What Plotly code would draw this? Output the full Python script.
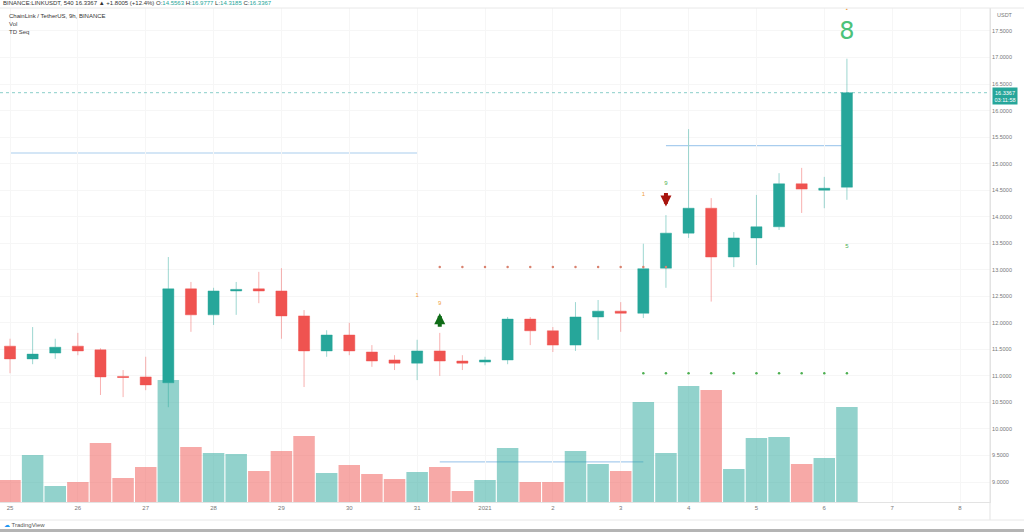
import plotly.graph_objects as go
import pandas as pd

# ---------------- data ----------------
start_time = "2020-12-25 00:00"
n_bars = 38
opens  = [11.56, 11.32, 11.43, 11.56, 11.49, 10.99, 10.98, 10.87, 12.64, 12.15,
          12.60, 12.64, 12.60, 12.13, 11.47, 11.77, 11.45, 11.30, 11.24, 11.47,
          11.28, 11.26, 11.30, 12.07, 11.85, 11.58, 12.11, 12.22, 12.18, 13.03,
          13.69, 14.16, 13.24, 13.60, 13.81, 14.62, 14.50, 14.5563]
highs  = [11.70, 11.92, 11.70, 11.81, 11.52, 11.11, 11.36, 13.24, 12.77, 12.66,
          12.77, 12.96, 13.03, 12.24, 11.86, 12.00, 11.58, 11.39, 11.68, 11.81,
          11.39, 11.36, 12.11, 12.11, 11.92, 12.39, 12.43, 12.39, 13.49, 14.03,
          15.65, 14.35, 13.71, 14.41, 14.82, 14.92, 14.75, 16.9777]
lows   = [11.05, 11.22, 11.32, 11.39, 10.64, 10.60, 10.73, 10.41, 11.83, 11.96,
          12.15, 12.37, 11.70, 10.79, 11.36, 11.39, 11.17, 11.11, 10.92, 11.00,
          11.11, 11.20, 11.22, 11.58, 11.45, 11.47, 11.68, 11.83, 12.09, 12.66,
          13.60, 12.40, 13.05, 13.09, 13.75, 14.07, 14.16, 14.3185]
closes = [11.32, 11.41, 11.54, 11.47, 10.98, 10.97, 10.83, 12.64, 12.15, 12.60,
          12.63, 12.60, 12.13, 11.47, 11.77, 11.47, 11.28, 11.24, 11.47, 11.28,
          11.24, 11.30, 12.07, 11.85, 11.58, 12.11, 12.22, 12.18, 13.02, 13.69,
          14.16, 13.24, 13.60, 13.81, 14.62, 14.52, 14.5362, 16.3367]
volume_k = [550, 1175, 400, 500, 1475, 600, 875, 3050, 1375, 1225,
            1200, 775, 1275, 1650, 725, 925, 700, 575, 750, 875,
            275, 550, 1350, 500, 500, 1275, 950, 775, 2500, 1225,
            2900, 2800, 825, 1600, 1625, 950, 1100, 2375]

day_ticks = pd.date_range("2020-12-25", "2021-01-08", freq="D")
day_labels = ["25", "26", "27", "28", "29", "30", "31", "2021", "2", "3", "4", "5", "6", "7", "8"]
price_ticks = [9.0 + 0.5 * k for k in range(18)]

# TD Sequential marks: (bar index, price, text)
td_orange_text = [(18, 12.52, "1"), (19, 12.37, "9"), (28, 14.41, "1"), (37, 17.90, "•")]
td_green_text = [(29, 14.62, "9"), (37, 13.43, "5")]
td_big_count = (37, 17.46, "8")
td_buy_arrow = (19, 12.18)    # arrow head price
td_sell_arrow = (29, 14.19)   # arrow head price
td_red_dots = (list(range(19, 29 + 1)), 13.05)
td_green_dots = (list(range(28, 37 + 1)), 11.05)
# TDST levels: (from bar, to bar, price)
tdst_levels = [(0, 18, 15.20), (29, 37, 15.34), (19, 28, 9.38)]

last_price = closes[-1]
prev_close = closes[-2]

# ---------------- figure ----------------
times = pd.date_range(start_time, periods=n_bars, freq="8h")
UP, DN = "#26a69a", "#ef5350"
UP_V, DN_V = "rgba(38,166,154,0.5)", "rgba(239,83,80,0.5)"
FONT = "Liberation Sans, Arial, sans-serif"

W, H, T = 990, 494, 8   # plot area width/height/top margin in px
def px_x(px): return px / W
def px_y(py): return (T + H - py) / H

vol_colors = [UP_V if c >= o else DN_V for o, c in zip(opens, closes)]

fig = go.Figure()
fig.add_trace(go.Bar(x=times, y=volume_k, marker=dict(color=vol_colors, line=dict(width=0)),
                     yaxis="y", hoverinfo="skip", showlegend=False))
fig.add_trace(go.Candlestick(
    x=times, open=opens, high=highs, low=lows, close=closes, yaxis="y2",
    increasing=dict(line=dict(color="rgba(38,166,154,0.45)", width=1), fillcolor=UP),
    decreasing=dict(line=dict(color="rgba(239,83,80,0.45)", width=1), fillcolor=DN),
    hoverinfo="skip", showlegend=False))

# TD dots
fig.add_trace(go.Scatter(x=[times[i] for i in td_red_dots[0]], y=[td_red_dots[1]] * len(td_red_dots[0]),
                         mode="markers", marker=dict(size=2.5, color="#d9826f"), yaxis="y2",
                         hoverinfo="skip", showlegend=False))
fig.add_trace(go.Scatter(x=[times[i] for i in td_green_dots[0]], y=[td_green_dots[1]] * len(td_green_dots[0]),
                         mode="markers", marker=dict(size=2.5, color="#4caf50"), yaxis="y2",
                         hoverinfo="skip", showlegend=False))
# TD texts
fig.add_trace(go.Scatter(x=[times[i] for i, _, _ in td_orange_text], y=[p for _, p, _ in td_orange_text],
                         text=[t for _, _, t in td_orange_text], mode="text",
                         textfont=dict(size=6, color="#f0a040", family=FONT), yaxis="y2",
                         hoverinfo="skip", showlegend=False))
fig.add_trace(go.Scatter(x=[times[i] for i, _, _ in td_green_text], y=[p for _, p, _ in td_green_text],
                         text=[t for _, _, t in td_green_text], mode="text",
                         textfont=dict(size=6, color="#4caf50", family=FONT), yaxis="y2",
                         hoverinfo="skip", showlegend=False))
fig.add_trace(go.Scatter(x=[times[td_big_count[0]]], y=[td_big_count[1]], text=[td_big_count[2]], mode="text",
                         textfont=dict(size=24, color="#4cc27a", family="DejaVu Sans"), yaxis="y2",
                         hoverinfo="skip", showlegend=False))

shapes = []
for a, b, lvl in tdst_levels:
    shapes.append(dict(type="line", xref="x", yref="y2", x0=times[a], x1=times[b], y0=lvl, y1=lvl,
                       line=dict(color="#a9cdee", width=1.2), layer="below"))
shapes.append(dict(type="line", xref="paper", yref="y2", x0=0, x1=1, y0=last_price, y1=last_price,
                   line=dict(color="rgba(38,166,154,0.55)", width=1, dash="dot")))
# axis frame extensions
shapes.append(dict(type="line", xref="paper", yref="paper", x0=1, x1=1, y0=px_y(520), y1=1,
                   line=dict(color="#e3e3e3", width=1)))
shapes.append(dict(type="line", xref="paper", yref="paper", x0=0, x1=px_x(1024), y0=px_y(520), y1=px_y(520),
                   line=dict(color="#e8e8e8", width=1)))
shapes.append(dict(type="line", xref="paper", yref="paper", x0=0, x1=px_x(1024), y0=1, y1=1,
                   line=dict(color="#e8e8e8", width=1)))
shapes.append(dict(type="rect", xref="paper", yref="paper", x0=0, x1=px_x(1024), y0=px_y(532), y1=px_y(529),
                   fillcolor="#b4b4b4", line=dict(width=0)))

tc = "#26a69a"
header = (f"<span style='color:#333'>BINANCE:LINKUSDT, 540 {last_price:.4f} ▲ "
          f"+{last_price - prev_close:.4f} (+{(last_price - prev_close) / prev_close * 100:.1f}%) O:</span>"
          f"<span style='color:{tc}'>{opens[-1]:.4f}</span><span style='color:#333'> H:</span>"
          f"<span style='color:{tc}'>{highs[-1]:.4f}</span><span style='color:#333'> L:</span>"
          f"<span style='color:{tc}'>{lows[-1]:.4f}</span><span style='color:#333'> C:</span>"
          f"<span style='color:{tc}'>{closes[-1]:.4f}</span>")

annotations = [
    dict(xref="paper", yref="paper", x=px_x(1), y=px_y(3.5), text=header, showarrow=False,
         xanchor="left", yanchor="middle", font=dict(size=6, family=FONT, color="#333")),
    dict(xref="paper", yref="paper", x=px_x(7), y=px_y(16), text="ChainLink / TetherUS, 9h, BINANCE",
         showarrow=False, xanchor="left", yanchor="middle", font=dict(size=6, family=FONT, color="#333")),
    dict(xref="paper", yref="paper", x=px_x(7), y=px_y(24), text="Vol", showarrow=False,
         xanchor="left", yanchor="middle", font=dict(size=6, family=FONT, color="#444")),
    dict(xref="paper", yref="paper", x=px_x(7), y=px_y(32), text="TD Seq", showarrow=False,
         xanchor="left", yanchor="middle", font=dict(size=6, family=FONT, color="#444")),
    dict(xref="paper", yref="paper", x=px_x(1005), y=px_y(15), text="USDT", showarrow=False,
         xanchor="center", yanchor="middle", font=dict(size=5.5, family=FONT, color="#777")),
    dict(xref="paper", yref="y2", x=1, y=last_price, text=f"{last_price:.4f}<br>03:11:58",
         showarrow=False, xanchor="left", yanchor="middle", xshift=2, yshift=-3,
         bgcolor="#26a69a", borderpad=1.5, font=dict(size=5.5, family=FONT, color="white")),
    dict(xref="paper", yref="paper", x=px_x(2), y=px_y(525), text="<span style='color:#2196f3'>☁</span> TradingView",
         showarrow=False, xanchor="left", yanchor="middle", font=dict(size=6, family=FONT, color="#555")),
    # TD buy / sell arrows (block arrows)
    dict(xref="x", yref="y2", x=times[td_buy_arrow[0]], y=td_buy_arrow[1], ax=0, ay=15,
         showarrow=True, arrowhead=2, arrowsize=0.55, arrowwidth=4, arrowcolor="#0e6b16", text=""),
    dict(xref="x", yref="y2", x=times[td_sell_arrow[0]], y=td_sell_arrow[1], ax=0, ay=-15,
         showarrow=True, arrowhead=2, arrowsize=0.55, arrowwidth=4, arrowcolor="#a8140e", text=""),
]

x0 = pd.Timestamp("2020-12-25") - pd.Timedelta(hours=24 * 10 / 67.86)
x1 = pd.Timestamp("2021-01-08") + pd.Timedelta(hours=24 * 30 / 67.86)

fig.update_layout(
    width=1024, height=532, margin=dict(l=0, r=34, t=8, b=30),
    paper_bgcolor="white", plot_bgcolor="white",
    font=dict(family=FONT, size=6, color="#777"),
    showlegend=False, bargap=0.05, boxgap=0.3,
    xaxis=dict(type="date", range=[x0, x1], tickvals=list(day_ticks), ticktext=day_labels,
               showgrid=True, gridcolor="#f6f6f6", zeroline=False, showline=True, linecolor="#e3e3e3",
               ticks="", tickfont=dict(size=6, color="#777"), rangeslider=dict(visible=False), fixedrange=True),
    yaxis=dict(range=[0, 12350], visible=False, fixedrange=True),
    yaxis2=dict(overlaying="y", side="right", range=[8.623, 17.933], tickvals=price_ticks,
                tickformat=".4f", showgrid=True, gridcolor="#f6f6f6", zeroline=False,
                showline=True, linecolor="#e3e3e3", ticks="", tickfont=dict(size=5.5, color="#777"),
                fixedrange=True),
    shapes=shapes, annotations=annotations,
)

fig.write_html("out.html")
